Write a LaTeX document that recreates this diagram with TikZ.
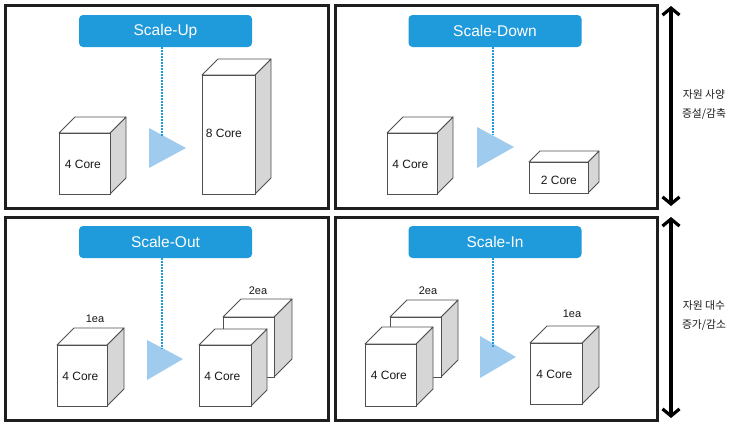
\documentclass[tikz,border=0pt]{standalone}
\usepackage{fontspec}
\setmainfont{Liberation Sans}
\newfontfamily\krfont{Noto Sans CJK KR}
\usetikzlibrary{arrows.meta,calc}
\definecolor{bannerblue}{RGB}{31,154,218}
\definecolor{triblue}{RGB}{158,203,238}
\definecolor{edgegray}{RGB}{80,80,80}
\definecolor{sidegray}{RGB}{214,214,214}
\definecolor{framegray}{RGB}{30,30,30}
\definecolor{txtgray}{RGB}{25,25,25}
\tikzset{
  panel/.style={draw=framegray, line width=2.6pt, inner sep=0pt, anchor=north west},
  banner/.style={fill=bannerblue, rounded corners=4pt, minimum width=173pt, minimum height=32pt,
    text=white, font=\fontsize{15.5}{18}\selectfont, inner sep=0pt},
  linkline/.style={draw=bannerblue, line width=1.1pt, dash pattern=on 2pt off 1pt},
  tri/.style={fill=triblue},
  sideface/.style={draw=edgegray, line width=0.8pt, fill=sidegray, line join=round},
  topface/.style={draw=edgegray, line width=0.8pt, fill=white, line join=round},
  frontface/.style={draw=edgegray, line width=0.8pt, fill=white, inner sep=0pt},
  coretext/.style={text=txtgray, font=\fontsize{12}{14}\selectfont, inner sep=0pt},
  eatext/.style={text=txtgray, font=\fontsize{11}{13}\selectfont, inner sep=0pt},
  sidearrow/.style={draw=black, line width=3.2pt, {Straight Barb[length=7pt,width=17pt]}-{Straight Barb[length=7pt,width=17pt]}},
  krtext/.style={text=txtgray, font=\krfont\fontsize{10.8}{12}\selectfont, inner sep=0pt}
}
% #1 name, #2 x, #3 y (top-left of front face), #4 w, #5 h, #6 depth, #7 text, #8 text offset
\newcommand\boxcube[8]{%
  \path[sideface] (#2+#4,#3) -- ++(#6,-#6) -- ++(0,#5) -- ++(-#6,#6) -- cycle;
  \path[topface] (#2,#3) -- ++(#6,-#6) -- ++(#4,0) -- ++(-#6,#6) -- cycle;
  \node[frontface, minimum width=#4pt, minimum height=#5pt, anchor=north west] (#1) at (#2,#3) {};
  \node[coretext] (#1t) at ($(#1.center)+(#8)$) {#7};
}
\begin{document}
\begin{tikzpicture}[x=1pt,y=-1pt]
\useasboundingbox (0,0) rectangle (733,423);
\fill[white] (0,0) rectangle (733,423);

% panels
\node[panel, minimum width=323pt, minimum height=203pt] (p1) at (4,4) {};
\node[panel, minimum width=322pt, minimum height=203pt] (p2) at (334,4) {};
\node[panel, minimum width=323pt, minimum height=203pt] (p3) at (4,216) {};
\node[panel, minimum width=322pt, minimum height=203pt] (p4) at (334,216) {};

% ---------- Scale-Up ----------
\node[banner] (b1) at (165.5,31) {Scale-Up};
\fill[tri] (149,128) -- (149,168) -- (186,148) -- cycle;
\coordinate (d1) at (162,137);
\draw[linkline] (b1.south -| d1) -- (d1);
\boxcube{c1}{59}{133}{51}{61}{16}{4 Core}{-2,0}
\boxcube{c2}{202}{75}{53}{119}{16}{8 Core}{-5,-2}

% ---------- Scale-Down ----------
\node[banner] (b2) at (495,31) {Scale-Down};
\fill[tri] (477,127) -- (477,168) -- (514,147) -- cycle;
\coordinate (d2) at (493,135);
\draw[linkline] (b2.south -| d2) -- (d2);
\boxcube{c3}{387}{133}{50}{61}{16}{4 Core}{-2,0}
\boxcube{c4}{529}{162}{59}{31}{11}{2 Core}{0,2}

% ---------- Scale-Out ----------
\node[banner] (b3) at (165.5,242) {Scale-Out};
\fill[tri] (147,340) -- (147,380) -- (183,359) -- cycle;
\coordinate (d3) at (162,349);
\draw[linkline] (b3.south -| d3) -- (d3);
\boxcube{c5}{57}{345}{50}{61}{17}{4 Core}{-2,0}
\node[eatext] (e1) at (95,319) {1ea};
\boxcube{c6}{223}{317}{51}{60}{18}{}{0,0}
\boxcube{c7}{199}{345}{52}{61}{16}{4 Core}{-3,0}
\node[eatext] (e2) at (258,291) {2ea};

% ---------- Scale-In ----------
\node[banner] (b4) at (495,242) {Scale-In};
\fill[tri] (480,336) -- (480,378) -- (516,357) -- cycle;
\coordinate (d4) at (493,347);
\draw[linkline] (b4.south -| d4) -- (d4);
\boxcube{c8}{390}{317}{51}{60}{17}{}{0,0}
\boxcube{c9}{365}{344}{51}{62}{17}{4 Core}{-2,0}
\node[eatext] (e3) at (428,291) {2ea};
\boxcube{c10}{530}{343}{52}{61}{17}{4 Core}{-2,0}
\node[eatext] (e4) at (572,314) {1ea};

% ---------- side arrows ----------
\coordinate (a1t) at (671,6);
\coordinate (a1b) at (671,206);
\coordinate (a2t) at (671,217);
\coordinate (a2b) at (671,418);
\draw[sidearrow] (a1t) -- (a1b);
\draw[sidearrow] (a2t) -- (a2b);
\node[krtext] (k1) at (704,94) {자원 사양};
\node[krtext] (k2) at (704,114) {증설/감축};
\node[krtext] (k3) at (704,305) {자원 대수};
\node[krtext] (k4) at (704,325) {증가/감소};
\end{tikzpicture}
\end{document}
